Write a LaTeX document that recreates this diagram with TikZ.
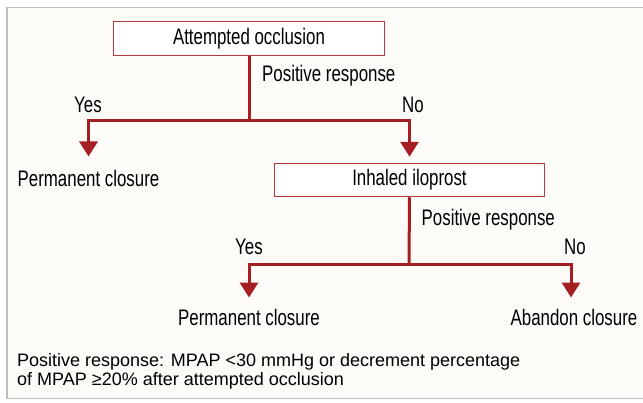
\documentclass[tikz,border=0pt]{standalone}
\usepackage{fontspec}
\setmainfont{Liberation Sans}
\newfontfamily\condfont{Liberation Sans}[FakeStretch=0.75]
\usetikzlibrary{arrows.meta}
\definecolor{flowred}{HTML}{A51E22}
\definecolor{boxred}{HTML}{B8393C}
\definecolor{paper}{HTML}{FCFBF8}
\definecolor{framegray}{HTML}{BDBDBD}
\tikzset{
  flowbox/.style={draw=boxred, line width=1.5pt, fill=white, inner sep=0pt,
                  font=\condfont\fontsize{22.5}{26}\selectfont},
  outcome/.style={inner sep=0pt, anchor=base, font=\condfont\fontsize{22.5}{26}\selectfont},
  branchlabel/.style={inner sep=0pt, font=\condfont\fontsize{22.5}{26}\selectfont},
  trunk/.style={draw=flowred, line width=3pt},
  branch/.style={trunk, -{Triangle[length=15pt,width=18pt]}}
}
\begin{document}
\begin{tikzpicture}[x=1pt,y=-1pt]
\useasboundingbox (0,0) rectangle (643,402);
\clip (0,0) rectangle (643,402);

% Frame
\draw[framegray, line width=1.5pt, fill=paper] (6.75,7.25) rectangle (660,398.5);

% Boxes
\node[flowbox, minimum width=271pt, minimum height=34pt] (occl) at (249,38.5) {Attempted occlusion};
\node[flowbox, minimum width=270pt, minimum height=33pt] (ilo) at (409.5,180) {Inhaled iloprost};

% Outcomes
\node[outcome] (perm1) at (88.5,186) {Permanent closure};
\node[outcome] (perm2) at (249,325) {Permanent closure};
\node[outcome] (abandon) at (574,325) {Abandon closure};

% Split points
\coordinate (split1) at (249,120);
\coordinate (split2) at (409,264);

% First decision
\draw[trunk] (occl.south) -- (split1);
\draw[branch, shorten >=13pt] (split1) -| (perm1.north);
\draw[branch, shorten >=6pt] (split1) -| (ilo.north);
\node[branchlabel, anchor=base west] (resp1) at (262,81.5) {Positive response};
\node[branchlabel, anchor=base] (yes1) at (88,112) {Yes};
\node[branchlabel, anchor=base] (no1) at (413,112) {No};

% Second decision
\draw[trunk] (ilo.south) -- (split2);
\draw[branch, shorten >=11pt] (split2) -| (perm2.north);
\draw[branch, shorten >=11pt] (split2) -| ([xshift=-3pt]abandon.north);
\node[branchlabel, anchor=base west] (resp2) at (421.5,225) {Positive response};
\node[branchlabel, anchor=base] (yes2) at (249,254) {Yes};
\node[branchlabel, anchor=base] (no2) at (575,254) {No};

% Footnote
\node[inner sep=0pt, anchor=base west, align=left, font=\fontsize{18}{19}\selectfont] (note) at (17,385)
  {Positive response: MPAP <30 mmHg or decrement percentage\\of MPAP ≥20\% after attempted occlusion};
\end{tikzpicture}
\end{document}
